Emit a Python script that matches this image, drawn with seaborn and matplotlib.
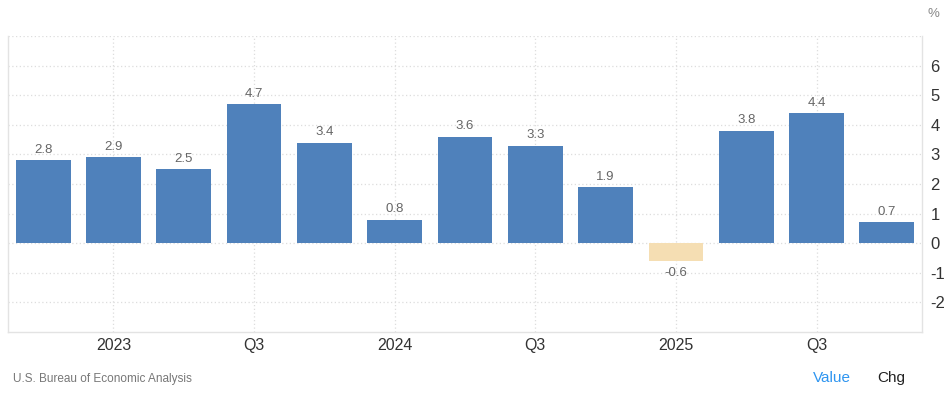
import numpy as np
import pandas as pd
import seaborn as sns
import matplotlib.pyplot as plt

# quarterly GDP growth (annualized, %), 2022 Q4 .. 2025 Q4
quarters = ["2022Q4", "2023Q1", "2023Q2", "2023Q3", "2023Q4", "2024Q1", "2024Q2",
            "2024Q3", "2024Q4", "2025Q1", "2025Q2", "2025Q3", "2025Q4"]
values = [2.8, 2.9, 2.5, 4.7, 3.4, 0.8, 3.6, 3.3, 1.9, -0.6, 3.8, 4.4, 0.7]
tick_pos = [1, 3, 5, 7, 9, 11]
tick_labels = ["2023", "Q3", "2024", "Q3", "2025", "Q3"]
y_ticks = [-2, -1, 0, 1, 2, 3, 4, 5, 6]

df = pd.DataFrame({"quarter": quarters, "value": values})
df["sign"] = np.where(df["value"] < 0, "neg", "pos")

sns.set_style("white")
plt.rcParams['font.family'] = ['Liberation Sans', 'DejaVu Sans']

fig = plt.figure(figsize=(9.45, 3.99), dpi=100)
ax = fig.add_axes([8/945, 1 - 332/399, (922 - 8)/945, (332 - 36)/399])

sns.barplot(data=df, x="quarter", y="value", hue="sign",
            palette={"pos": "#4f81bb", "neg": "#f5deb3"}, saturation=1,
            dodge=False, width=0.78, legend=False, linewidth=0, ax=ax, zorder=3)

# value labels
for i, v in enumerate(values):
    if v >= 0:
        ax.text(i, v + 0.15, f"{v}", ha="center", va="bottom", fontsize=9.5, color="#666666")
    else:
        ax.text(i, v - 0.2, f"{v}", ha="center", va="top", fontsize=9.5, color="#666666")

ax.set_xlim(-0.5, 12.5)
ax.set_ylim(-3, 7)
ax.set_xticks(tick_pos)
ax.set_xticklabels(tick_labels, fontsize=11.5, color="#333333")
ax.set_yticks(y_ticks + [7])
ax.set_yticklabels([str(t) for t in y_ticks] + [""], fontsize=12, color="#333333")
ax.yaxis.tick_right()
ax.tick_params(axis="both", length=0, pad=4)
ax.tick_params(axis="y", pad=6)
ax.set_xlabel("")
ax.set_ylabel("")

ax.grid(True, axis="both", color="#dddddd", linestyle=(0, (1, 2)), linewidth=0.9, zorder=0)
ax.set_axisbelow(True)
for side in ["left", "right", "bottom"]:
    ax.spines[side].set_color("#e3e3e3")
    ax.spines[side].set_linewidth(1)
ax.spines["top"].set_visible(False)

fig.text(933/945, 1 - 14/399, "%", fontsize=9.5, color="#888888", ha="center", va="center")
fig.text(13/945, 1 - 379/399, "U.S. Bureau of Economic Analysis", fontsize=8.5, color="#777777",
         ha="left", va="center")
fig.text(832/945, 1 - 378/399, "Value", fontsize=11, color="#2e95f0", ha="center", va="center")
fig.text(891/945, 1 - 378/399, "Chg", fontsize=11, color="#222222", ha="center", va="center")

plt.savefig("out.png", dpi=100)
